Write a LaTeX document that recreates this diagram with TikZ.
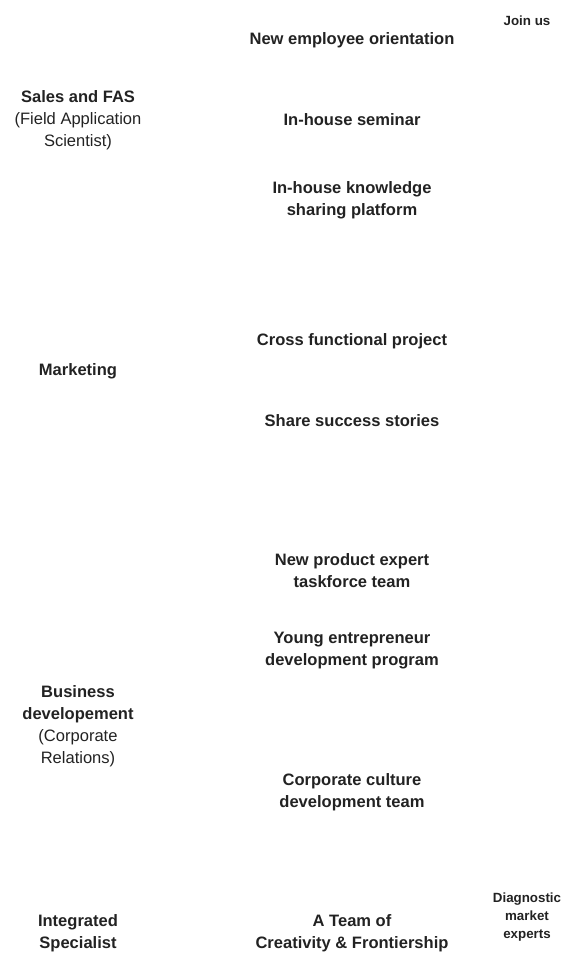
\documentclass[tikz,border=0pt]{standalone}
\usepackage{fontspec}
\setmainfont{Liberation Sans}
\usepackage{tikz}
\usepackage{xcolor}
\definecolor{labelgray}{RGB}{34,34,34}

\begin{document}
\begin{tikzpicture}[x=0.75pt,y=-0.75pt,
    item/.style={text=labelgray,align=center,inner sep=0pt,
        font=\fontsize{12.4}{16.5}\selectfont\bfseries},
    group/.style={text=labelgray,align=center,inner sep=0pt,
        font=\fontsize{12.4}{16.5}\selectfont},
    side/.style={text=labelgray,align=center,inner sep=0pt,
        font=\fontsize{10}{13.5}\selectfont\bfseries}]
    \useasboundingbox (0,0) rectangle (572,961);

    % Groups (left column)
    \node[group] (sales) at (78,120) {\textbf{Sales and FAS}\\(Field Application\\Scientist)};
    \node[group] (marketing) at (78,371) {\textbf{Marketing}};
    \node[group] (bizdev) at (78,726) {\textbf{Business}\\\textbf{developement}\\(Corporate\\Relations)};
    \node[group] (integrated) at (78,933) {\textbf{Integrated}\\\textbf{Specialist}};

    % Programs (middle column)
    \node[item] (orientation) at (352,40) {New employee orientation};
    \node[item] (seminar) at (352,120) {In-house seminar};
    \node[item] (platform) at (352,200) {In-house knowledge\\sharing platform};
    \node[item] (crossproj) at (352,341) {Cross functional project};
    \node[item] (stories) at (352,421) {Share success stories};
    \node[item] (taskforce) at (352,571) {New product expert\\taskforce team};
    \node[item] (young) at (352,651) {Young entrepreneur\\development program};
    \node[item] (culture) at (352,792) {Corporate culture\\development team};
    \node[item] (creativity) at (352,933) {A Team of\\Creativity \& Frontiership};

    % Ends (right column)
    \node[side] (join) at (527,21) {Join us};
    \node[side] (experts) at (527,917) {Diagnostic\\market\\experts};
\end{tikzpicture}
\end{document}
